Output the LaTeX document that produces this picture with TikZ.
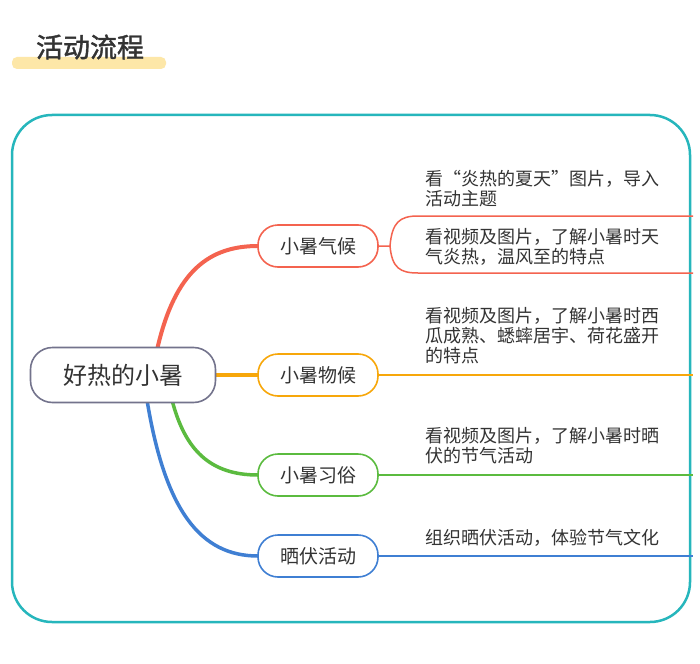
\documentclass[tikz,border=0pt]{standalone}
\usepackage{fontspec}
\setmainfont{Noto Sans CJK SC}
\newfontfamily\cjkb[FakeBold=1.5]{Noto Sans CJK SC}
\begin{document}
\begin{tikzpicture}[x=1pt,y=-1pt,
  br/.style={draw=#1,line width=1.6pt,rounded corners=20pt,minimum width=120pt,minimum height=42pt,font=\fontsize{19}{22}\selectfont,text=black!80,fill=white},
  leaf/.style={anchor=north west,align=left,font=\fontsize{18}{20}\selectfont,text=black!80,inner sep=0pt}]
\definecolor{cr}{HTML}{F4634F}\definecolor{co}{HTML}{F7A70A}\definecolor{cg}{HTML}{5BBB3F}\definecolor{cb}{HTML}{3F7FD3}
\definecolor{teal}{HTML}{26B6BC}\definecolor{hl}{HTML}{FDE7A8}
\useasboundingbox (0,0) rectangle (700,663);
\fill[white] (0,0) rectangle (700,663);
\fill[hl,rounded corners=5pt] (12,57) rectangle (166,69);
\node[font=\cjkb\fontsize{27}{30}\selectfont,text=black!80] (title) at (90,47) {活动流程};
\draw[teal,line width=2.5pt,rounded corners=40pt] (12,115) rectangle (690,622);
% branch curves
\draw[cr,line width=4pt] (157,350) .. controls (175,270) and (210,246) .. (258,246);
\draw[co,line width=4pt] (215,375) -- (258,375);
\draw[cg,line width=3.5pt] (172,400) .. controls (185,450) and (210,475) .. (258,475);
\draw[cb,line width=3.5pt] (147,400) .. controls (165,510) and (200,556) .. (258,556);
\node[draw=gray!90!blue,line width=1.6pt,rounded corners=22pt,minimum width=185pt,minimum height=55pt,fill=white,font=\fontsize{24}{28}\selectfont,text=black!80] (c) at (123,375) {好热的小暑};
\node[br=cr] (b1) at (318,246) {小暑气候};
\node[br=co] (b2) at (318,375) {小暑物候};
\node[br=cg] (b3) at (318,475) {小暑习俗};
\node[br=cb] (b4) at (318,556) {晒伏活动};
% leaves
\draw[cr,line width=1.5pt] (b1.east) -- (390,246) .. controls (392,222) and (400,216) .. (418,216) -- (693,216);
\draw[cr,line width=1.5pt] (390,246) .. controls (392,268) and (400,273) .. (418,273) -- (693,273);
\draw[co,line width=1.5pt] (b2.east) -- (693,375);
\draw[cg,line width=1.5pt] (b3.east) -- (693,475);
\draw[cb,line width=1.5pt] (b4.east) -- (693,556);
\node[leaf] (l1) at (425,170) {看“炎热的夏天”图片，导入\\活动主题};
\node[leaf] (l2) at (425,228) {看视频及图片，了解小暑时天\\气炎热，温风至的特点};
\node[leaf] (l3) at (425,307) {看视频及图片，了解小暑时西\\瓜成熟、蟋蟀居宇、荷花盛开\\的特点};
\node[leaf] (l4) at (425,427) {看视频及图片，了解小暑时晒\\伏的节气活动};
\node[leaf] (l5) at (425,529) {组织晒伏活动，体验节气文化};
\end{tikzpicture}
\end{document}
